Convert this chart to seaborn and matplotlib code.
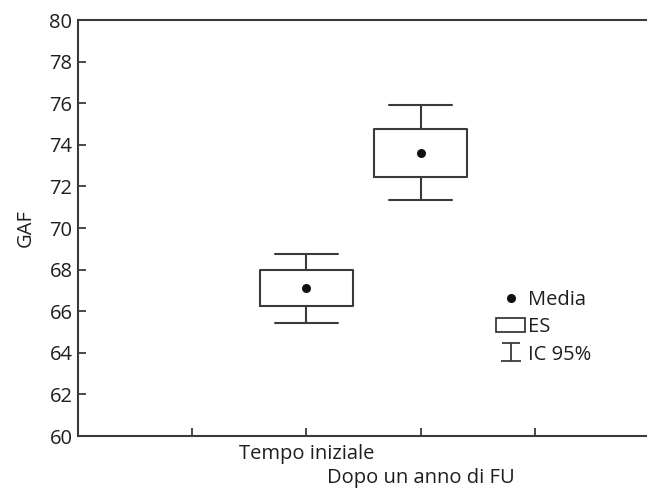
import numpy as np
import pandas as pd
import matplotlib
matplotlib.use("Agg")
import matplotlib.pyplot as plt
from matplotlib.path import Path
from matplotlib.lines import Line2D
from matplotlib.patches import Patch
import seaborn as sns

# Data
categories = ["Tempo iniziale", "Dopo un anno di FU"]
means = [67.12, 73.60]
se_low = [66.24, 72.44]
se_high = [67.96, 74.74]
ci_low = [65.45, 71.35]
ci_high = [68.77, 75.90]
yticks = [60, 62, 64, 66, 68, 70, 72, 74, 76, 78, 80]

sns.set_style("ticks")
plt.rcParams['font.family'] = ['Open Sans', 'DejaVu Sans']
col = "#3a3a3a"
tcol = "#1e1e1e"
fs = 14.5

fig = plt.figure(figsize=(6.47, 4.88), dpi=100)
ax = fig.add_axes([78/647, 1 - 436/488, 1.003 - 78/647, (436 - 20)/488])

positions = [1, 2]
stats = []
for i, c in enumerate(categories):
    stats.append(dict(med=means[i], q1=se_low[i], q3=se_high[i],
                      whislo=ci_low[i], whishi=ci_high[i], fliers=[], label=c))
lw = 1.5
ax.bxp(stats, positions=positions, widths=0.81, showfliers=False,
       boxprops=dict(color=col, linewidth=lw),
       whiskerprops=dict(color=col, linewidth=lw),
       capprops=dict(color=col, linewidth=lw),
       medianprops=dict(linewidth=0),
       capwidths=0.55, manage_ticks=False)

df = pd.DataFrame({"x": positions, "mean": means})
sns.scatterplot(data=df, x="x", y="mean", ax=ax, color="#111111", s=42,
                edgecolor="#111111", linewidth=0, zorder=5)

ax.set_xlim(-1, 4)
ax.set_ylim(60, 80)
ax.set_yticks(yticks)
ax.set_yticklabels([str(t) for t in yticks], fontsize=fs, color=tcol)
ax.set_xticks([0, 1, 2, 3])
ax.set_xticklabels(["", categories[0], "", ""], fontsize=fs, color=tcol)
ax.text(2, -0.077, categories[1], transform=ax.get_xaxis_transform(),
        ha="center", va="top", fontsize=fs, color=tcol)
ax.set_xlabel("")
ax.set_ylabel("GAF", fontsize=fs, color=tcol, labelpad=10)
ax.tick_params(axis="both", direction="in", length=6, width=1.3, color=col, pad=4)
ax.tick_params(axis="x", pad=6)
for s in ["left", "bottom", "top", "right"]:
    ax.spines[s].set_color(col)
    ax.spines[s].set_linewidth(1.5)

# legend
ic_path = Path([(-0.9, 0.85), (0.9, 0.85), (0, 0.85), (0, -0.85), (-1, -0.85), (1, -0.85)],
               [Path.MOVETO, Path.LINETO, Path.MOVETO, Path.LINETO, Path.MOVETO, Path.LINETO])
handles = [
    Line2D([], [], marker="o", color="#111111", linestyle="none", markersize=5.5),
    Patch(facecolor="white", edgecolor=col, linewidth=1.3),
    Line2D([], [], marker=ic_path, color=col, linestyle="none", markersize=15,
           markeredgewidth=1.3, markerfacecolor="none"),
]
leg = ax.legend(handles, ["Media", "ES", "IC 95%"], loc="upper left",
                bbox_to_anchor=(496/647, 1 - 290/488), bbox_transform=fig.transFigure,
                frameon=False, fontsize=fs, handlelength=1.45, handleheight=0.7,
                handletextpad=0.15, labelspacing=0.36, borderpad=0, borderaxespad=0)
for t in leg.get_texts():
    t.set_color(tcol)

fig.savefig("out.png", dpi=100)
